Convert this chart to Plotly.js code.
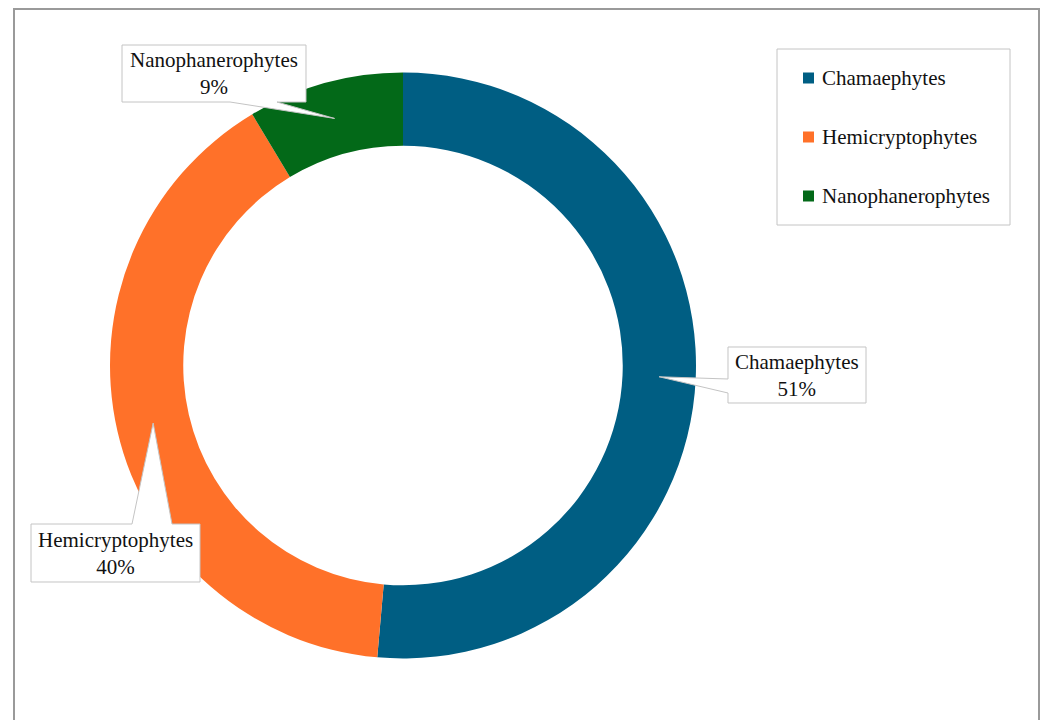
<!DOCTYPE html>
<html>
<head>
<meta charset="utf-8">
<script src="https://cdn.plot.ly/plotly-3.0.1.min.js"></script>
<style>html,body{margin:0;padding:0;background:#fff;}#chart{width:1045px;height:720px;}</style>
</head>
<body>
<div id="chart"></div>
<script>
// ---- data ----
const labels = ["Chamaephytes", "Hemicryptophytes", "Nanophanerophytes"];
const values = [51.4, 40.0, 8.6];
const colors = ["#005E83", "#FF7129", "#036918"];

// ---- layout helpers (pixel -> paper) ----
const W = 1045, H = 720;
const px = x => x / W;
const py = y => 1 - y / H;

const cx = 403, cy = 365.5, R = 293, hole = 0.75;

// callout box geometry (pixels): box, side the pointer leaves from, pointer base span
const callouts = [
  {box: [728, 347, 866, 403], side: "left",   base: [379, 393]},
  {box: [31, 524, 200, 582],  side: "top",    base: [132, 172]},
  {box: [122, 45, 306, 102],  side: "bottom", base: [230, 277]}
];

const total = values.reduce((a, b) => a + b, 0);
const fontFam = "Liberation Serif, Times New Roman, serif";

const shapes = [];
const annotations = [];

// outer frame
shapes.push({type: "rect", xref: "paper", yref: "paper",
  x0: px(14), x1: px(1039), y0: py(9), y1: -0.02,
  line: {color: "#9a9a9a", width: 2}, fillcolor: "rgba(0,0,0,0)", layer: "below"});

let cum = 0;
values.forEach((v, i) => {
  const mid = (cum + v / 2) / total;
  cum += v;
  const th = mid * 2 * Math.PI;
  const rm = R * (1 + hole) / 2;
  const tx = cx + rm * Math.sin(th), ty = cy - rm * Math.cos(th);
  const c = callouts[i];
  const [x0, y0, x1, y1] = c.box;
  const [b0, b1] = c.base;
  let pts = [[x0, y0]];
  if (c.side === "top") pts.push([b0, y0], [tx, ty], [b1, y0]);
  pts.push([x1, y0], [x1, y1]);
  if (c.side === "bottom") pts.push([b1, y1], [tx, ty], [b0, y1]);
  pts.push([x0, y1]);
  if (c.side === "left") pts.push([x0, b1], [tx, ty], [x0, b0]);
  const path = pts.map((p, k) => (k ? "L" : "M") + px(p[0]).toFixed(5) + "," + py(p[1]).toFixed(5)).join(" ") + " Z";
  shapes.push({type: "path", xref: "paper", yref: "paper", path: path,
    fillcolor: "#ffffff", line: {color: "#c4c4c4", width: 1}, layer: "above"});
  annotations.push({xref: "paper", yref: "paper", x: px((x0 + x1) / 2), y: py((y0 + y1) / 2),
    xanchor: "center", yanchor: "middle", showarrow: false, align: "center",
    text: labels[i] + "<br>" + Math.round(v / total * 100) + "%",
    font: {family: fontFam, size: 21, color: "#111"}});
});

// legend (drawn from labels/colors)
const lg = {box: [777, 49, 1010, 225], y0: 78, step: 59, sx: 803, sz: 11, tx: 820};
shapes.push({type: "rect", xref: "paper", yref: "paper",
  x0: px(lg.box[0]), x1: px(lg.box[2]), y0: py(lg.box[1]), y1: py(lg.box[3]),
  line: {color: "#c4c4c4", width: 1}, fillcolor: "#ffffff", layer: "above"});
labels.forEach((lab, i) => {
  const yc = lg.y0 + i * lg.step;
  shapes.push({type: "rect", xref: "paper", yref: "paper",
    x0: px(lg.sx), x1: px(lg.sx + lg.sz), y0: py(yc - lg.sz / 2), y1: py(yc + lg.sz / 2),
    line: {width: 0}, fillcolor: colors[i], layer: "above"});
  annotations.push({xref: "paper", yref: "paper", x: px(lg.tx), y: py(yc),
    xanchor: "left", yanchor: "middle", showarrow: false, text: lab,
    font: {family: fontFam, size: 21, color: "#111"}});
});

const trace = {
  type: "pie", labels: labels, values: values, hole: hole,
  sort: false, direction: "clockwise", rotation: 0,
  marker: {colors: colors, line: {width: 0}},
  textinfo: "none", hoverinfo: "label+percent", showlegend: false,
  domain: {x: [px(cx - R), px(cx + R)], y: [py(cy + R), py(cy - R)]}
};

const layout = {
  width: W, height: H, margin: {l: 0, r: 0, t: 0, b: 0},
  paper_bgcolor: "#ffffff", plot_bgcolor: "#ffffff",
  showlegend: false, shapes: shapes, annotations: annotations
};

Plotly.newPlot("chart", [trace], layout, {displayModeBar: false, staticPlot: true});
</script>
</body>
</html>
